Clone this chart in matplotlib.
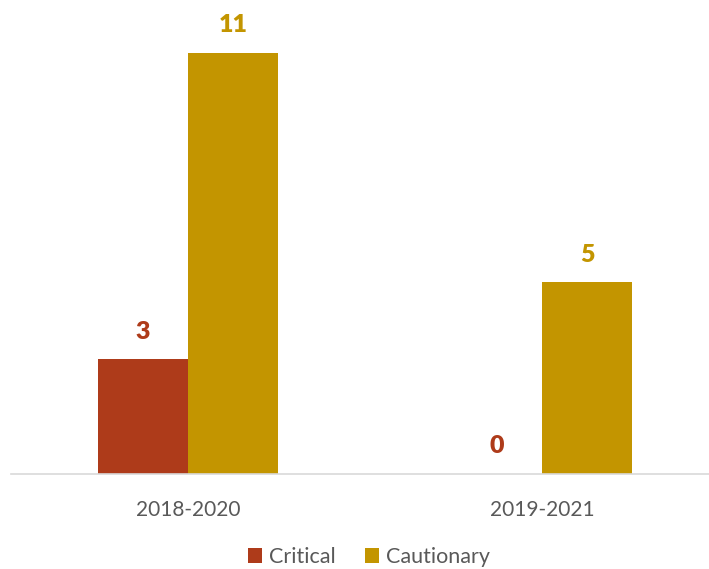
import matplotlib
matplotlib.use('Agg')
import matplotlib.pyplot as plt
import numpy as np

periods = ['2018-2020', '2019-2021']
critical = [3, 0]
cautionary = [11, 5]

RED = '#AE3B1A'
GOLD = '#C39500'
GREY = '#595959'

plt.rcParams['font.family'] = ['Lato', 'DejaVu Sans']

W, H = 709, 569
fig = plt.figure(figsize=(W / 100, H / 100), dpi=100)
# axes spans from the left margin to the right edge, baseline near the bottom
ax = fig.add_axes([11 / W, (H - 473.5) / H, (W - 11) / W, 473.5 / H])

x = np.arange(len(periods))
bw = 90 / 354
bars_crit = ax.bar(x - bw / 2, critical, bw, color=RED, label='Critical')
bars_caut = ax.bar(x + bw / 2, cautionary, bw, color=GOLD, label='Cautionary')

ax.set_xlim(-0.5, 1 + (W - 542) / 354)
ax.set_ylim(0, 473.5 / (421 / 11))

for bars, vals, col in [(bars_crit, critical, RED), (bars_caut, cautionary, GOLD)]:
    for b, v in zip(bars, vals):
        ax.annotate(str(v), (b.get_x() + b.get_width() / 2, v),
                    xytext=(0, 19.5), textcoords='offset points',
                    ha='center', va='center', fontsize=18,
                    fontweight='heavy', color=col)

for s in ['left', 'right', 'top']:
    ax.spines[s].set_visible(False)
ax.spines['bottom'].set_color('#D9D9D9')
ax.spines['bottom'].set_linewidth(1.2)
ax.set_yticks([])
ax.set_xticks(x)
ax.set_xticklabels(periods, fontsize=15, color=GREY)
ax.tick_params(axis='x', length=0, pad=19)

fig.legend(loc='center', bbox_to_anchor=(369 / W, 12 / H), ncol=2,
           frameon=False, fontsize=15.5, labelcolor=GREY,
           handlelength=0.65, handleheight=0.65, handletextpad=0.3,
           columnspacing=1.4)

fig.savefig('out.png', dpi=100)
